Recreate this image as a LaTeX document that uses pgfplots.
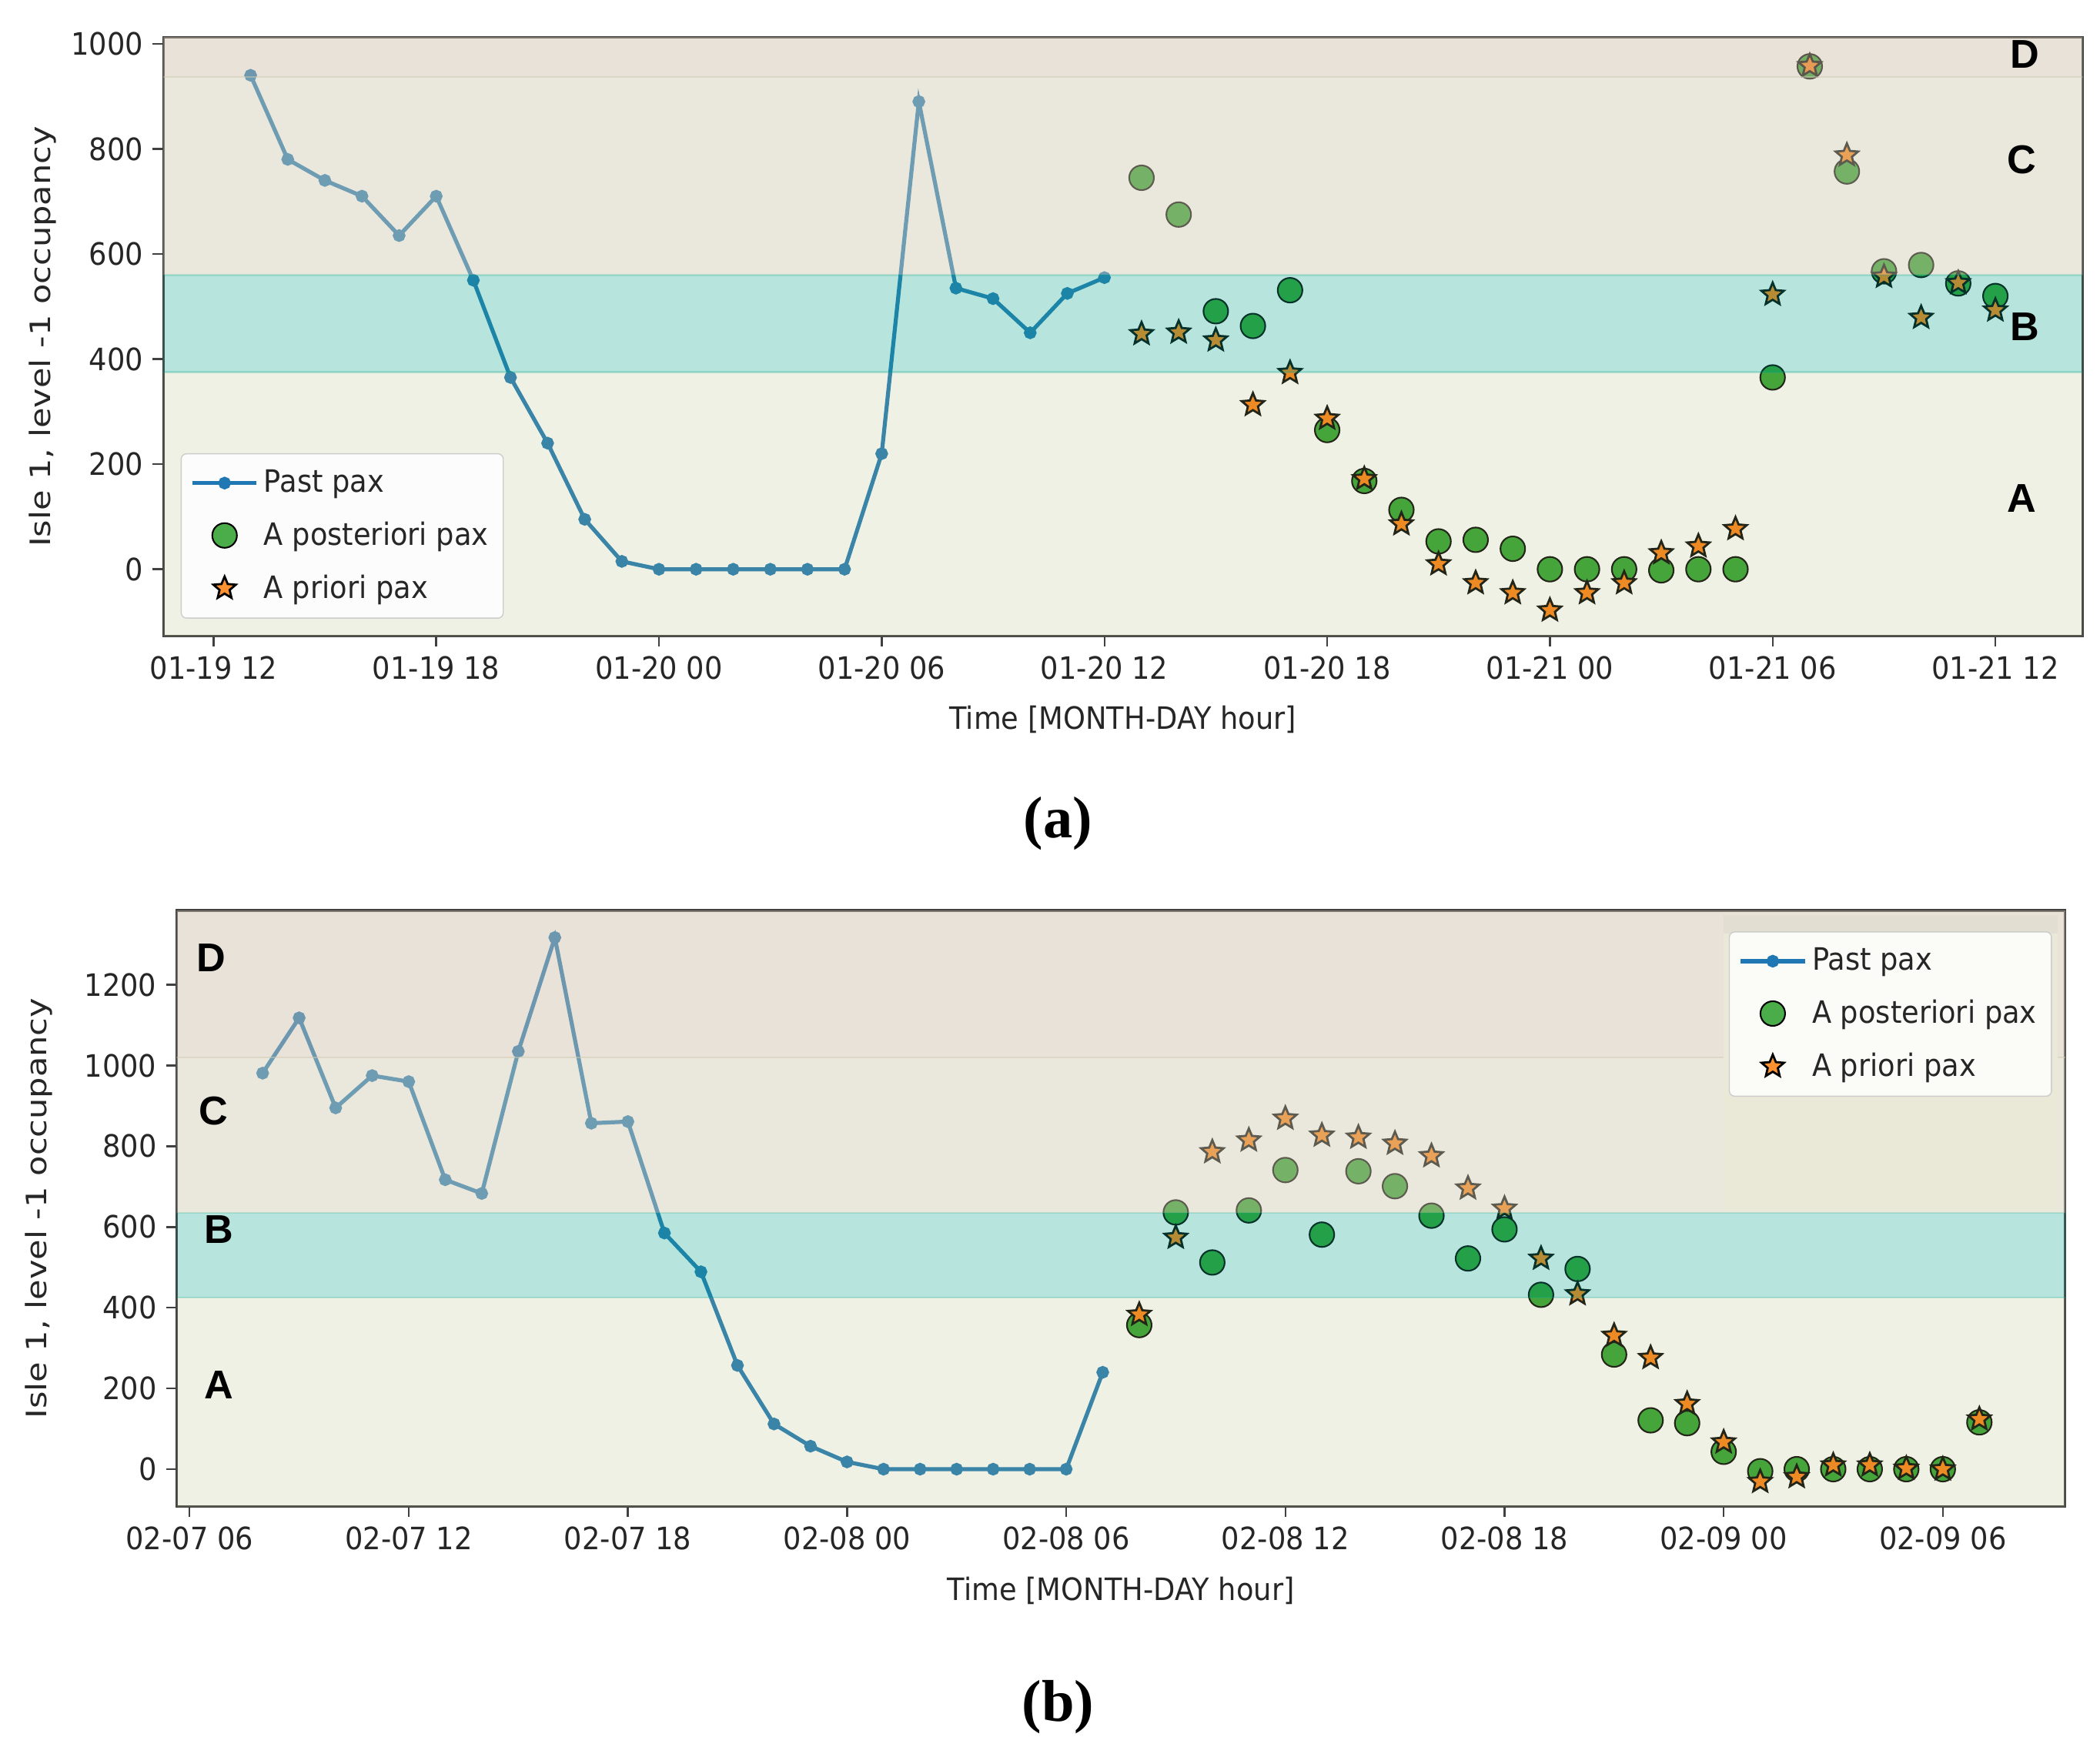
\documentclass[border=0pt]{standalone}
\usepackage{fontspec}
\setmainfont{DejaVu Sans}[FakeStretch=0.92]
\newfontfamily\ylabfont{DejaVu Sans}[FakeStretch=1.18]
\newfontfamily\zonefont{Liberation Sans}
\newfontfamily\capfont{Liberation Serif}
\usepackage{pgfplots}
\pgfplotsset{compat=1.18}

\definecolor{mblue}{RGB}{31,119,180}
\definecolor{mgreen}{RGB}{44,160,44}
\definecolor{morange}{RGB}{255,127,14}
\definecolor{cA}{RGB}{170,185,120}
\definecolor{cB}{RGB}{18,165,140}
\definecolor{cC}{RGB}{208,202,177}
\definecolor{cD}{RGB}{203,190,170}
\definecolor{patchY}{RGB}{234,232,214}
\definecolor{patchG}{RGB}{226,222,210}

\pgfdeclareplotmark{fstar}{%
  \pgfpathmoveto{\pgfpointpolar{90}{\pgfplotmarksize}}%
  \pgfpathlineto{\pgfpointpolar{126}{0.45\pgfplotmarksize}}%
  \pgfpathlineto{\pgfpointpolar{162}{\pgfplotmarksize}}%
  \pgfpathlineto{\pgfpointpolar{198}{0.45\pgfplotmarksize}}%
  \pgfpathlineto{\pgfpointpolar{234}{\pgfplotmarksize}}%
  \pgfpathlineto{\pgfpointpolar{270}{0.45\pgfplotmarksize}}%
  \pgfpathlineto{\pgfpointpolar{306}{\pgfplotmarksize}}%
  \pgfpathlineto{\pgfpointpolar{342}{0.45\pgfplotmarksize}}%
  \pgfpathlineto{\pgfpointpolar{18}{\pgfplotmarksize}}%
  \pgfpathlineto{\pgfpointpolar{54}{0.45\pgfplotmarksize}}%
  \pgfpathclose
  \pgfusepathqfillstroke}

\pgfplotstableread{
x y
1 940
2 780
3 740
4 710
5 635
6 710
7 550
8 365
9 240
10 95
11 15
12 0
13 0
14 0
15 0
16 0
17 0
18 220
19 890
20 535
21 515
22 450
23 525
24 555
}\pastA
\pgfplotstableread{
x y
25 745
26 675
27 491
28 463
29 531
30 265
31 168
32 113
33 53
34 56
35 39
36 0
37 0
38 0
39 -2
40 0
41 0
42 365
43 957
44 757
45 567
46 579
47 544
48 520
}\postA
\pgfplotstableread{
x y
25 448
26 451
27 436
28 313
29 374
30 287
31 172
32 86
33 10
34 -26
35 -45
36 -78
37 -45
38 -26
39 31
40 44
41 77
42 523
43 958
44 788
45 557
46 479
47 545
48 493
}\prioA
\pgfplotstableread{
x y
2 981
3 1118
4 895
5 975
6 960
7 717
8 683
9 1035
10 1317
11 857
12 861
13 585
14 489
15 257
16 112
17 57
18 18
19 0
20 0
21 0
22 0
23 0
24 0
25 240
}\pastB
\pgfplotstableread{
x y
26 357
27 636
28 512
29 641
30 741
31 581
32 738
33 701
34 628
35 522
36 594
37 432
38 496
39 284
40 121
41 114
42 43
43 -5
44 0
45 0
46 0
47 0
48 0
49 116
}\postB
\pgfplotstableread{
x y
26 383
27 574
28 786
29 815
30 869
31 827
32 822
33 807
34 776
35 696
36 646
37 522
38 434
39 331
40 276
41 162
42 67
43 -31
44 -19
45 10
46 10
47 2
48 0
49 124
}\prioB

\tikzset{zone/.style={font=\zonefont\bfseries\fontsize{15}{15}\selectfont, text=black}}

\pgfplotsset{
  myax/.style={
    scale only axis,
    clip mode=individual,
    axis line style={black!75, line width=0.9pt},
    tick align=outside,
    xtick pos=left, ytick pos=left,
    major tick length=4pt,
    tick style={black!75, line width=0.7pt},
    ticklabel style={font=\fontsize{11.5}{13}\selectfont, text=black!85},
    /pgf/number format/assume math mode=true,
    /pgf/number format/1000 sep={},
    xlabel style={font=\fontsize{11.5}{13}\selectfont, text=black!85, anchor=center},
    ylabel style={font=\ylabfont\fontsize{10.5}{12}\selectfont, text=black!85, anchor=center},
    legend cell align=left,
    legend image code/.code={\draw[mark repeat=2,mark phase=2] plot coordinates {(0cm,0cm) (0.42cm,0cm) (0.84cm,0cm)};},
    legend style={fill=white, fill opacity=0.85, text opacity=1, draw=black!20,
      rounded corners=2pt, font=\fontsize{11.5}{13}\selectfont, text=black!85,
      row sep=5.5pt, inner xsep=3.5pt, inner ysep=4pt},
    xtick={0,6,...,48},
  },
  pastst/.style={mblue, line width=1.5pt, mark=*, mark size=1.6pt, mark options={solid}},
  postst/.style={only marks, mark=*, mark size=4.6pt, mark options={fill=mgreen, draw=black, line width=0.6pt}},
  priost/.style={only marks, mark=fstar, mark size=4.4pt, mark options={fill=morange, draw=black, line width=0.8pt}},
  band/.style={forget plot, draw=none, fill=#1},
  bline/.style={forget plot, line width=0.8pt, draw=#1},
}

\begin{document}
\begin{tikzpicture}
\useasboundingbox (0,0) rectangle (784pt,656pt);

\begin{axis}[myax,
  at={(61pt,418.5pt)}, anchor=south west,
  width=716.5pt, height=223.5pt,
  xmin=-1.35, xmax=50.35, ymin=-127, ymax=1012,
  ytick={0,200,...,1000},
  xticklabels={01-19 12,01-19 18,01-20 00,01-20 06,01-20 12,01-20 18,01-21 00,01-21 06,01-21 12},
  xlabel={Time [MONTH-DAY hour]},
  ylabel={Isle 1, level -1 occupancy},
  xlabel style={at={(axis description cs:0.5,-0.139)}},
  ylabel style={at={(axis description cs:-0.063,0.5)}},
  legend style={at={(0.009,0.029)}, anchor=south west},
]
\addplot[pastst] table[x=x,y=y] {\pastA};
\addlegendentry{Past pax}
\addplot[postst] table[x=x,y=y] {\postA};
\addlegendentry{A posteriori pax}
\addplot[priost] table[x=x,y=y] {\prioA};
\addlegendentry{A priori pax}
\addplot[band=cA, fill opacity=0.2] coordinates {(-5,-300) (60,-300) (60,375) (-5,375)} -- cycle;
\addplot[band=cB, fill opacity=0.3] coordinates {(-5,375) (60,375) (60,560) (-5,560)} -- cycle;
\addplot[band=cC, fill opacity=0.45] coordinates {(-5,560) (60,560) (60,937) (-5,937)} -- cycle;
\addplot[band=cD, fill opacity=0.45] coordinates {(-5,937) (60,937) (60,1200) (-5,1200)} -- cycle;
\addplot[bline=cB, draw opacity=0.25] coordinates {(-5,375) (60,375)};
\addplot[bline=cB, draw opacity=0.2] coordinates {(-5,560) (60,560)};
\addplot[bline=cC, draw opacity=0.5] coordinates {(-5,937) (60,937)};
\node[zone] at (axis cs:48.8,980) {D};
\node[zone] at (axis cs:48.7,780) {C};
\node[zone] at (axis cs:48.8,462) {B};
\node[zone] at (axis cs:48.7,135) {A};
\end{axis}

\begin{axis}[myax,
  at={(66pt,93.5pt)}, anchor=south west,
  width=705pt, height=222.5pt,
  xmin=-0.35, xmax=51.35, ymin=-92, ymax=1384,
  ytick={0,200,...,1200},
  xticklabels={02-07 06,02-07 12,02-07 18,02-08 00,02-08 06,02-08 12,02-08 18,02-09 00,02-09 06},
  xlabel={Time [MONTH-DAY hour]},
  ylabel={Isle 1, level -1 occupancy},
  xlabel style={at={(axis description cs:0.5,-0.1416)}},
  ylabel style={at={(axis description cs:-0.073,0.5)}},
  legend style={at={(0.993,0.965)}, anchor=north east},
]
\addplot[pastst] table[x=x,y=y] {\pastB};
\addlegendentry{Past pax}
\addplot[postst] table[x=x,y=y] {\postB};
\addlegendentry{A posteriori pax}
\addplot[priost] table[x=x,y=y] {\prioB};
\addlegendentry{A priori pax}
\addplot[band=cA, fill opacity=0.2] coordinates {(-5,-300) (60,-300) (60,425) (-5,425)} -- cycle;
\addplot[band=cB, fill opacity=0.3] coordinates {(-5,425) (60,425) (60,635) (-5,635)} -- cycle;
\addplot[band=cC, fill opacity=0.45] coordinates {(-5,635) (60,635) (60,1020) (-5,1020)} -- cycle;
\addplot[band=cD, fill opacity=0.45] coordinates {(-5,1020) (60,1020) (60,1600) (-5,1600)} -- cycle;
\addplot[bline=cB, draw opacity=0.25] coordinates {(-5,425) (60,425)};
\addplot[bline=cB, draw opacity=0.2] coordinates {(-5,635) (60,635)};
\addplot[bline=cC, draw opacity=0.5] coordinates {(-5,1020) (60,1020)};
\addplot[band=patchY] coordinates {(42,640) (51.15,640) (51.15,1326) (42,1326)} -- cycle;
\addplot[band=patchG] coordinates {(42,1326) (51.15,1326) (51.15,1372) (42,1372)} -- cycle;
\node[zone] at (axis cs:0.6,1266) {D};
\node[zone] at (axis cs:0.65,888) {C};
\node[zone] at (axis cs:0.8,593) {B};
\node[zone] at (axis cs:0.8,209) {A};
\end{axis}

\node[font=\capfont\bfseries\fontsize{22}{24}\selectfont] at (395pt,348.5pt) {(a)};
\node[font=\capfont\bfseries\fontsize{22}{24}\selectfont] at (395pt,18.5pt) {(b)};
\end{tikzpicture}
\end{document}
